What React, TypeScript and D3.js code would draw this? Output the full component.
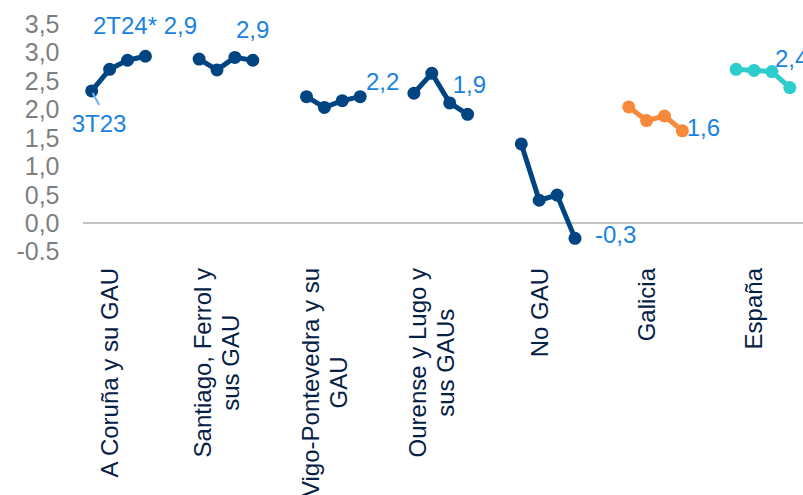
import React, { useEffect, useRef } from "react";
import * as d3 from "d3";

const categories = [
  ["A Coruña y su GAU"],
  ["Santiago, Ferrol y", "sus GAU"],
  ["Vigo-Pontevedra y su", "GAU"],
  ["Ourense y Lugo y", "sus GAUs"],
  ["No GAU"],
  ["Galicia"],
  ["España"],
];

const seriesValues = [
  [2.32, 2.7, 2.86, 2.93],
  [2.88, 2.69, 2.91, 2.86],
  [2.22, 2.03, 2.15, 2.22],
  [2.28, 2.63, 2.11, 1.91],
  [1.39, 0.4, 0.49, -0.27],
  [2.04, 1.8, 1.88, 1.62],
  [2.7, 2.68, 2.66, 2.38],
];

const seriesColors = ["#004481", "#004481", "#004481", "#004481", "#004481", "#F7893B", "#2DCCCD"];

const endLabels = ["2T24* 2,9", "2,9", "2,2", "1,9", "-0,3", "1,6", "2,4"];
const startLabel = "3T23";

const yTicks = [-0.5, 0, 0.5, 1, 1.5, 2, 2.5, 3, 3.5];
const yTickLabels = ["-0.5", "0,0", "0,5", "1,0", "1,5", "2,0", "2,5", "3,0", "3,5"];

const W = 803;
const H = 495;
const FONT = "'Liberation Sans', Arial, Helvetica, sans-serif";

export default function App() {
  const ref = useRef<SVGSVGElement | null>(null);

  useEffect(() => {
    const svg = d3.select(ref.current);
    svg.selectAll("*").remove();

    const slotsPerGroup = 6;
    const x = d3.scaleLinear().domain([0, 1]).range([91.7, 91.7 + 17.9]);
    const y = d3.scaleLinear().domain([0, 3.5]).range([223, 23.8]);
    const slot = (g: number, i: number) => g * slotsPerGroup + i;

    // y tick labels
    svg
      .append("g")
      .selectAll("text")
      .data(yTicks)
      .join("text")
      .attr("x", 59.5)
      .attr("y", (d) => y(d))
      .attr("dy", "0.36em")
      .attr("text-anchor", "end")
      .attr("font-family", FONT)
      .attr("font-size", 25)
      .attr("fill", "#7F7F7F")
      .text((_, i) => yTickLabels[i]);

    // zero line
    svg
      .append("line")
      .attr("x1", 83)
      .attr("x2", W)
      .attr("y1", y(0))
      .attr("y2", y(0))
      .attr("stroke", "#888888")
      .attr("stroke-width", 1.2);

    seriesValues.forEach((vals, g) => {
      const grp = svg.append("g");
      const ln = d3
        .line<number>()
        .x((_, i) => x(slot(g, i)))
        .y((d) => y(d));
      grp
        .append("path")
        .attr("d", ln(vals) || "")
        .attr("fill", "none")
        .attr("stroke", seriesColors[g])
        .attr("stroke-width", 5)
        .attr("stroke-linejoin", "round");
      grp
        .selectAll("circle")
        .data(vals)
        .join("circle")
        .attr("cx", (_, i) => x(slot(g, i)))
        .attr("cy", (d) => y(d))
        .attr("r", 6.5)
        .attr("fill", seriesColors[g]);
    });

    // data labels
    const labelColor = "#1982E0";
    const labelPos: [number, number][] = [
      [93, 33.5],
      [236, 38],
      [366, 90],
      [452.7, 93.3],
      [595, 243.3],
      [686.7, 136],
      [775, 66.7],
    ];
    svg
      .append("g")
      .selectAll("text")
      .data(endLabels)
      .join("text")
      .attr("x", (_, g) => labelPos[g][0])
      .attr("y", (_, g) => labelPos[g][1])
      .attr("font-family", FONT)
      .attr("font-size", 24)
      .attr("fill", labelColor)
      .text((d) => d);

    // start label with leader line
    const p0x = x(slot(0, 0));
    const p0y = y(seriesValues[0][0]);
    svg
      .append("line")
      .attr("x1", p0x + 1)
      .attr("y1", p0y + 2)
      .attr("x2", p0x + 7.5)
      .attr("y2", p0y + 14)
      .attr("stroke", "#6CB4F5")
      .attr("stroke-width", 2);
    svg
      .append("text")
      .attr("x", 71.7)
      .attr("y", 131.7)
      .attr("font-family", FONT)
      .attr("font-size", 24)
      .attr("fill", labelColor)
      .text(startLabel);

    // category labels (rotated)
    const top = 268;
    categories.forEach((lines, g) => {
      const cx = x(slot(g, 1));
      const gg = svg.append("g");
      const texts = lines.map((t) =>
        gg
          .append("text")
          .attr("font-family", FONT)
          .attr("font-size", 24)
          .attr("fill", "#072146")
          .attr("text-anchor", "middle")
          .attr("dy", "0.35em")
          .text(t)
      );
      const lens = texts.map((t) => (t.node() as SVGTextElement).getComputedTextLength());
      const maxLen = Math.max(...lens);
      const cy = top + maxLen / 2;
      texts.forEach((t, li) => {
        const off = (li - (lines.length - 1) / 2) * 28;
        t.attr("transform", `translate(${cx + off},${cy}) rotate(-90)`);
      });
    });
  }, []);

  return (
    <svg
      ref={ref}
      width={W}
      height={H}
      style={{ position: "absolute", left: 0, top: 0, background: "#fff" }}
    />
  );
}
